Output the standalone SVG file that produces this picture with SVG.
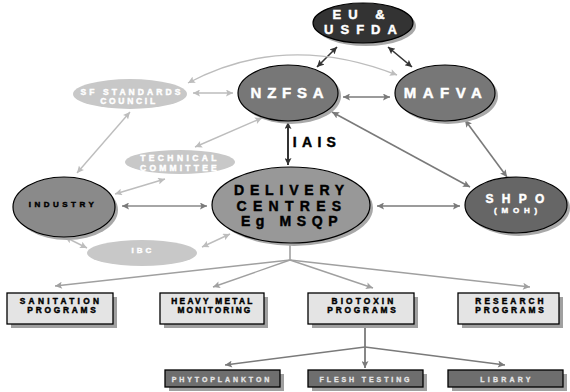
<svg xmlns="http://www.w3.org/2000/svg" width="570" height="392" viewBox="0 0 570 392">
  <defs>
    <marker id="ah-dark" viewBox="0 0 10 10" refX="10" refY="5" markerWidth="8" markerHeight="7" markerUnits="userSpaceOnUse" orient="auto-start-reverse">
      <path d="M0,0 L10,5 L0,10 L2,5 z" fill="#333"/>
    </marker>
    <marker id="ah-mid" viewBox="0 0 10 10" refX="10" refY="5" markerWidth="8" markerHeight="7" markerUnits="userSpaceOnUse" orient="auto-start-reverse">
      <path d="M0,0 L10,5 L0,10 L2,5 z" fill="#7a7a7a"/>
    </marker>
    <marker id="ah-light" viewBox="0 0 10 10" refX="10" refY="5" markerWidth="8" markerHeight="7" markerUnits="userSpaceOnUse" orient="auto-start-reverse">
      <path d="M0,0 L10,5 L0,10 L2,5 z" fill="#bdbdbd"/>
    </marker>
    <marker id="ah-fan" viewBox="0 0 10 10" refX="10" refY="5" markerWidth="8" markerHeight="7" markerUnits="userSpaceOnUse" orient="auto-start-reverse">
      <path d="M0,0 L10,5 L0,10 L2,5 z" fill="#a0a0a0"/>
    </marker>
  </defs>
  <style>
    text { font-family: "Liberation Sans", Arial, sans-serif; font-weight: bold; text-anchor: middle; stroke-width: 0.45; }
    .shadow { fill: #a8a8a8; }
    .node-dark { stroke: #000; stroke-width: 1.2; }
    .soft { fill: #c8c8c8; }
    .box { fill: #e4e4e4; stroke: #000; stroke-width: 1.3; }
    .box-dark { fill: #6e6e6e; stroke: #000; stroke-width: 1.3; }
    .box-shadow { fill: #a0a0a0; }
    .c-dark { stroke: #333; stroke-width: 1.6; fill: none; marker-start: url(#ah-dark); marker-end: url(#ah-dark); }
    .c-mid { stroke: #7a7a7a; stroke-width: 1.6; fill: none; marker-start: url(#ah-mid); marker-end: url(#ah-mid); }
    .c-light { stroke: #bdbdbd; stroke-width: 1.4; fill: none; marker-start: url(#ah-light); marker-end: url(#ah-light); }
    .c-fan { stroke: #a0a0a0; stroke-width: 1.4; fill: none; marker-end: url(#ah-fan); }
    .c-fan2 { stroke: #7a7a7a; stroke-width: 1.3; fill: none; marker-end: url(#ah-mid); }
    .t-white { fill: #fff; stroke: #fff; }
    .t-black { fill: #000; stroke: #000; }
    .t-pale { fill: #e6e6e6; stroke: #e6e6e6; stroke-width: 0.3; }
  </style>

  <!-- connectors -->
  <g id="connectors">
    <path class="c-dark" d="M337,47 L317,67"/>
    <path class="c-dark" d="M388,47 L412,67"/>
    <path class="c-mid" d="M343,97 L390,97"/>
    <path class="c-light" d="M188,83 Q285,31 397,75"/>
    <path class="c-light" d="M193,93 L233,93"/>
    <path class="c-light" d="M77,173 L130,112"/>
    <path class="c-light" d="M195,147 L262,118"/>
    <path class="c-light" d="M115,194 L165,179"/>
    <path class="c-mid" style="stroke:#888" d="M122,206 L207,206"/>
    <path class="c-light" d="M65,237 L87,248"/>
    <path class="c-light" d="M202,247 L230,234"/>
    <path class="c-dark" style="stroke-width:2" d="M288,122 L288,165"/>
    <path class="c-mid" d="M332,112 L470,187"/>
    <path class="c-mid" d="M465,120 L507,177"/>
    <path class="c-mid" d="M377,206 L460,206"/>
    <!-- delivery centres to programmes -->
    <path d="M290,244 L290,260" stroke="#a0a0a0" stroke-width="1.6" fill="none"/>
    <path class="c-fan" d="M290,260 L55,286"/>
    <path class="c-fan" d="M290,260 L213,287"/>
    <path class="c-fan" d="M290,260 L373,288"/>
    <path class="c-fan" d="M290,260 L530,287"/>
    <!-- biotoxin programmes to sub-programmes -->
    <path class="c-fan2" style="stroke-width:1.8" d="M365,324 L365,368"/>
    <path class="c-fan2" d="M365,347 L225,365"/>
    <path class="c-fan2" d="M365,347 L505,365"/>
  </g>

  <!-- ellipse nodes -->
  <g id="eu-usfda">
    <ellipse class="shadow" cx="366" cy="26" rx="50" ry="20"/>
    <ellipse class="node-dark" cx="363" cy="23" rx="50" ry="20" fill="#333"/>
    <text class="t-white" x="362" y="19" font-size="13" letter-spacing="7">EU &amp;</text>
    <text class="t-white" x="364" y="34" font-size="13" letter-spacing="7">USFDA</text>
  </g>

  <g id="nzfsa">
    <ellipse class="shadow" cx="291" cy="96" rx="50" ry="28"/>
    <ellipse class="node-dark" cx="288" cy="93" rx="50" ry="28" fill="#777"/>
    <text class="t-white" x="290" y="98" font-size="15" letter-spacing="5.8">NZFSA</text>
  </g>

  <g id="mafva">
    <ellipse class="shadow" cx="448" cy="96" rx="50" ry="28"/>
    <ellipse class="node-dark" cx="445" cy="93" rx="50" ry="28" fill="#777"/>
    <text class="t-white" x="446" y="98" font-size="15" letter-spacing="6.5">MAFVA</text>
  </g>

  <g id="sf-standards-council">
    <ellipse class="soft" cx="130" cy="94" rx="57" ry="15"/>
    <text class="t-white" x="132" y="95" font-size="8.5" letter-spacing="3.1">SF STANDARDS</text>
    <text class="t-white" x="129" y="104" font-size="8.5" letter-spacing="2.7">COUNCIL</text>
  </g>

  <g id="technical-committee">
    <ellipse class="soft" cx="180" cy="162" rx="55" ry="12"/>
    <text class="t-white" x="180" y="161" font-size="8.5" letter-spacing="3.4">TECHNICAL</text>
    <text class="t-white" x="180" y="171" font-size="8.5" letter-spacing="3.2">COMMITTEE</text>
  </g>

  <g id="industry">
    <ellipse class="shadow" cx="67" cy="210" rx="51" ry="30"/>
    <ellipse class="node-dark" cx="64" cy="207" rx="51" ry="30" fill="#8a8a8a"/>
    <text class="t-black" x="63" y="207" font-size="8" letter-spacing="3.5">INDUSTRY</text>
  </g>

  <g id="ibc">
    <ellipse class="soft" cx="142" cy="253" rx="55" ry="13"/>
    <text class="t-white" x="143" y="253" font-size="8" letter-spacing="3">IBC</text>
  </g>

  <g id="delivery-centres">
    <ellipse class="shadow" cx="294" cy="208" rx="79" ry="38"/>
    <ellipse class="node-dark" cx="291" cy="205" rx="79" ry="38" fill="#989898"/>
    <text class="t-black" x="292" y="195" font-size="14" letter-spacing="5.8">DELIVERY</text>
    <text class="t-black" x="292" y="211" font-size="14" letter-spacing="6.3">CENTRES</text>
    <text class="t-black" x="292" y="226" font-size="14" letter-spacing="5.6">Eg MSQP</text>
  </g>

  <g id="shpo">
    <ellipse class="shadow" cx="519" cy="208" rx="51" ry="28"/>
    <ellipse class="node-dark" cx="516" cy="205" rx="51" ry="28" fill="#666"/>
    <text class="t-white" x="519" y="203" font-size="12" letter-spacing="8.3">SHPO</text>
    <text class="t-white" x="518" y="213" font-size="8" letter-spacing="4.8">(MOH)</text>
  </g>

  <g id="iais-label">
    <text class="t-black" x="317" y="147" font-size="14" letter-spacing="5.3">IAIS</text>
  </g>

  <!-- programme boxes -->
  <g id="sanitation-programs">
    <rect class="box-shadow" x="11" y="297" width="106" height="31"/>
    <rect class="box" x="7" y="293" width="106" height="31"/>
    <text class="t-black" x="61" y="304" font-size="8.3" letter-spacing="3.3">SANITATION</text>
    <text class="t-black" x="63" y="313" font-size="8.3" letter-spacing="2.8">PROGRAMS</text>
  </g>

  <g id="heavy-metal-monitoring">
    <rect class="box-shadow" x="164" y="297" width="104" height="31"/>
    <rect class="box" x="160" y="293" width="104" height="31"/>
    <text class="t-black" x="213" y="304" font-size="8.3" letter-spacing="2.3">HEAVY METAL</text>
    <text class="t-black" x="215" y="313" font-size="8.3" letter-spacing="2.1">MONITORING</text>
  </g>

  <g id="biotoxin-programs">
    <rect class="box-shadow" x="312" y="297" width="106" height="31"/>
    <rect class="box" x="308" y="293" width="106" height="31"/>
    <text class="t-black" x="364" y="304" font-size="8.3" letter-spacing="3.1">BIOTOXIN</text>
    <text class="t-black" x="363" y="313" font-size="8.3" letter-spacing="2.8">PROGRAMS</text>
  </g>

  <g id="research-programs">
    <rect class="box-shadow" x="462" y="297" width="101" height="31"/>
    <rect class="box" x="458" y="293" width="101" height="31"/>
    <text class="t-black" x="511" y="304" font-size="8.3" letter-spacing="3.1">RESEARCH</text>
    <text class="t-black" x="511" y="313" font-size="8.3" letter-spacing="2.8">PROGRAMS</text>
  </g>

  <!-- sub-programme boxes -->
  <g id="phytoplankton">
    <rect class="box-shadow" x="169" y="374" width="115" height="17"/>
    <rect class="box-dark" x="165" y="370" width="115" height="17"/>
    <text class="t-pale" x="222" y="382" font-size="7" letter-spacing="2.9">PHYTOPLANKTON</text>
  </g>

  <g id="flesh-testing">
    <rect class="box-shadow" x="312" y="374" width="115" height="17"/>
    <rect class="box-dark" x="308" y="370" width="115" height="17"/>
    <text class="t-pale" x="366" y="382" font-size="7" letter-spacing="2.9">FLESH TESTING</text>
  </g>

  <g id="library">
    <rect class="box-shadow" x="452" y="374" width="115" height="17"/>
    <rect class="box-dark" x="448" y="370" width="115" height="17"/>
    <text class="t-pale" x="507" y="382" font-size="7" letter-spacing="3.2">LIBRARY</text>
  </g>
</svg>
